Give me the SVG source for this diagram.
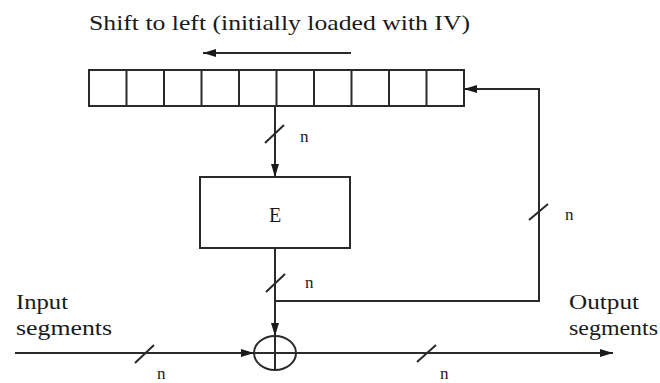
<svg xmlns="http://www.w3.org/2000/svg" width="660" height="383" viewBox="0 0 660 383">
<defs>
<marker id="ah" markerWidth="13" markerHeight="8" refX="13" refY="4" orient="auto" markerUnits="userSpaceOnUse"><path d="M0,0 L13,4 L0,8 z" fill="#1a1a1a"/></marker>
</defs>
<style>
.ln{stroke:#2a2a2a;stroke-width:2;fill:none}
.bx{stroke:#2a2a2a;stroke-width:2;fill:#fff}
.t{font-family:"Liberation Serif","Times New Roman",serif;fill:#1a1a1a}
.n{font-family:"Liberation Serif","Times New Roman",serif;fill:#1a1a1a;font-size:17px}
</style>
<rect width="660" height="383" fill="#fff"/>
<g id="title">
<text class="t" x="89" y="30" font-size="21" textLength="381" lengthAdjust="spacingAndGlyphs">Shift to left (initially loaded with IV)</text>
<line class="ln" x1="351" y1="53" x2="203" y2="53" marker-end="url(#ah)"/>
</g>
<g id="register">
<rect class="bx" x="89" y="70" width="375" height="36"/>
<path class="ln" d="M126.5,70V106M164,70V106M201.5,70V106M239,70V106M276.5,70V106M314,70V106M351.5,70V106M389,70V106M426.5,70V106"/>
</g>
<g id="E">
<rect class="bx" x="200" y="177" width="150" height="71"/>
<text class="t" x="275" y="222" font-size="20" text-anchor="middle">E</text>
</g>
<g id="xor">
<ellipse class="ln" cx="275" cy="353" rx="21" ry="17"/>
<line class="ln" x1="275" y1="336" x2="275" y2="370"/>
<line class="ln" x1="254" y1="353" x2="296" y2="353"/>
</g>
<g id="input">
<text class="t" x="16" y="309" font-size="21" textLength="52" lengthAdjust="spacingAndGlyphs">Input</text>
<text class="t" x="16" y="335" font-size="21" textLength="96" lengthAdjust="spacingAndGlyphs">segments</text>
</g>
<g id="output">
<text class="t" x="569" y="309" font-size="21" textLength="70" lengthAdjust="spacingAndGlyphs">Output</text>
<text class="t" x="569" y="335" font-size="21" textLength="89" lengthAdjust="spacingAndGlyphs">segments</text>
</g>
<g id="connectors">
<line class="ln" x1="275" y1="106" x2="275" y2="177" marker-end="url(#ah)"/>
<line class="ln" x1="275" y1="248" x2="275" y2="336" marker-end="url(#ah)"/>
<polyline class="ln" points="275,301 539,301 539,89 464,89" marker-end="url(#ah)"/>
<line class="ln" x1="15" y1="353" x2="254" y2="353" marker-end="url(#ah)"/>
<line class="ln" x1="296" y1="353" x2="613" y2="353" marker-end="url(#ah)"/>
<path class="ln" d="M265,143L284,125M529,220L548,204M266,292L285,274M135,363L154,345M417,362L436,345"/>
<text class="n" x="300" y="142">n</text>
<text class="n" x="565" y="220">n</text>
<text class="n" x="305" y="288">n</text>
<text class="n" x="157" y="379">n</text>
<text class="n" x="440" y="379">n</text>
</g>
</svg>
